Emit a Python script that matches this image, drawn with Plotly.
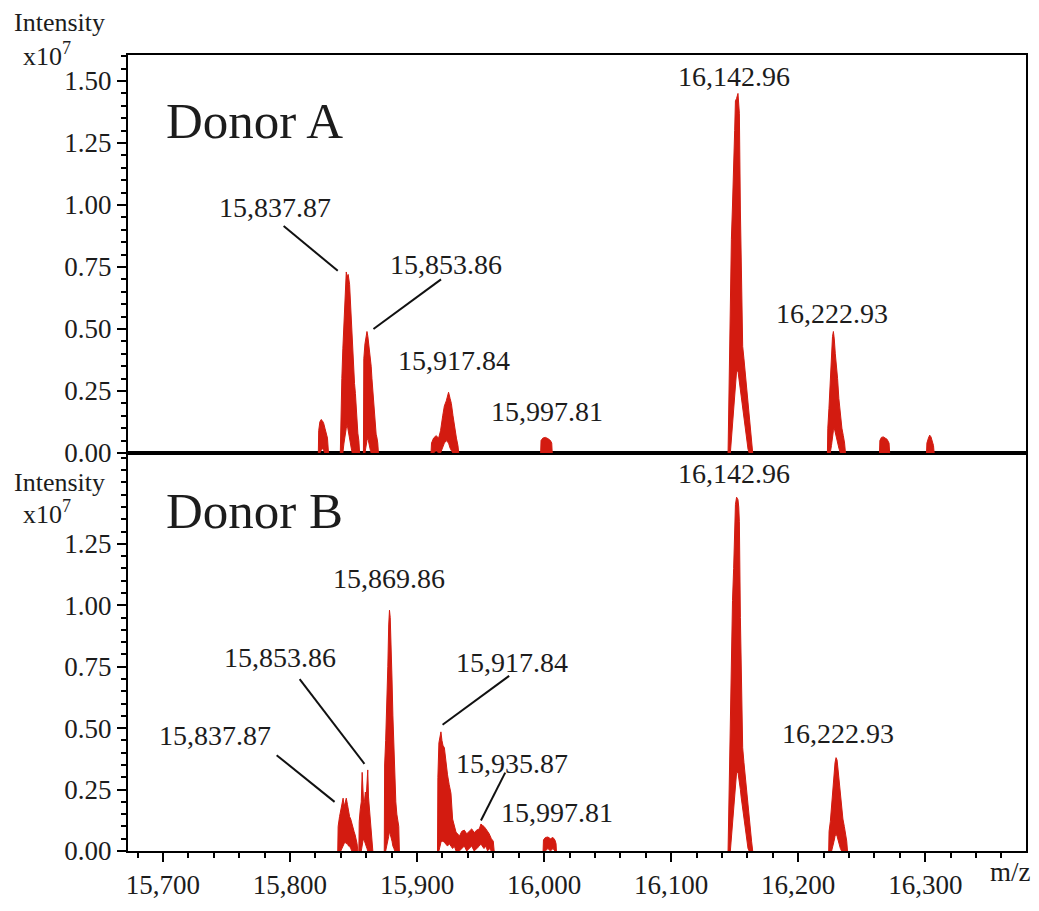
import plotly.graph_objects as go

# ---------------- data: m/z, upper envelope, lower envelope (x10^7 counts) ----------------
# Donor A
a1_mz = [15822.3, 15822.6, 15823.5, 15824.5, 15825.5, 15826.5, 15827.5, 15828.5, 15829.5, 15830.3]
a1_up = [0, 0.09, 0.125, 0.135, 0.13, 0.12, 0.10, 0.08, 0.06, 0]
a1_lo = [0, 0, 0, 0.01, 0.02, 0.01, 0, 0, 0, 0]

a2_mz = [15839.6, 15839.9, 15840.8, 15841.6, 15842.5, 15843.5, 15844.3, 15845.0, 15845.8, 15846.9,
         15847.6, 15848.2, 15849.0, 15849.9, 15850.8, 15851.5, 15852.1, 15852.8, 15853.4, 15854.2, 15854.8]
a2_up = [0, 0.10, 0.30, 0.42, 0.55, 0.70, 0.73, 0.71, 0.72, 0.68,
         0.60, 0.52, 0.48, 0.38, 0.28, 0.24, 0.18, 0.12, 0.08, 0.05, 0]
a2_lo = [0, 0, 0, 0, 0.04, 0.08, 0.10, 0.115, 0.10, 0.07,
         0.04, 0.02, 0, 0, 0, 0, 0, 0, 0, 0, 0]

a3_mz = [15857.8, 15858.1, 15859.0, 15859.8, 15860.6, 15861.3, 15862.0, 15862.6, 15863.3, 15863.9,
         15864.5, 15865.1, 15865.8, 15866.5, 15867.2, 15867.8, 15868.5, 15869.1, 15869.6]
a3_up = [0, 0.38, 0.44, 0.47, 0.49, 0.47, 0.44, 0.42, 0.38, 0.35,
         0.30, 0.26, 0.20, 0.155, 0.11, 0.076, 0.06, 0.04, 0]
a3_lo = [0, 0, 0, 0.03, 0.05, 0.06, 0.05, 0.03, 0.01, 0,
         0, 0, 0, 0, 0, 0, 0, 0, 0]

a4_mz = [15911.0, 15911.4, 15913.0, 15915.0, 15917.0, 15918.5, 15920.2, 15921.5, 15923.0, 15924.8,
         15926.0, 15927.0, 15928.3, 15929.5, 15931.0, 15932.2, 15932.8]
a4_up = [0, 0.04, 0.06, 0.07, 0.06, 0.09, 0.15, 0.19, 0.21, 0.245,
         0.22, 0.20, 0.15, 0.10, 0.06, 0.03, 0]
a4_lo = [0, 0, 0, 0.01, 0, 0, 0.02, 0.04, 0.05, 0.04,
         0.02, 0.01, 0, 0, 0, 0, 0]

a5_mz = [15997.3, 15997.6, 15999.0, 16001.0, 16003.0, 16005.0, 16006.0, 16006.4]
a5_up = [0, 0.05, 0.06, 0.063, 0.058, 0.05, 0.04, 0]
a5_lo = [0, 0, 0, 0, 0, 0, 0, 0]

a6_mz = [16144.8, 16145.1, 16146.0, 16146.6, 16147.4, 16148.3, 16149.2, 16150.0, 16150.6, 16151.5,
         16152.6, 16153.2, 16153.7, 16154.5, 16155.1, 16155.7, 16156.3, 16157.3, 16158.4, 16159.4,
         16160.5, 16161.4, 16162.3, 16163.3, 16164.2]
a6_up = [0, 0.11, 0.30, 0.58, 0.86, 1.00, 1.13, 1.30, 1.42, 1.43,
         1.45, 1.42, 1.37, 0.98, 0.80, 0.65, 0.43, 0.38, 0.32, 0.25,
         0.19, 0.13, 0.083, 0.04, 0]
a6_lo = [0, 0, 0, 0, 0.054, 0.115, 0.177, 0.23, 0.27, 0.33,
         0.33, 0.31, 0.29, 0.256, 0.23, 0.21, 0.18, 0.14, 0.10, 0.06,
         0.016, 0, 0, 0, 0]

a7_mz = [16223.0, 16223.3, 16224.2, 16225.2, 16226.2, 16227.0, 16227.7, 16228.4, 16229.2, 16230.0,
         16231.0, 16232.0, 16233.2, 16234.4, 16235.5, 16236.5, 16237.2]
a7_up = [0, 0.10, 0.18, 0.30, 0.42, 0.47, 0.49, 0.46, 0.40, 0.36,
         0.30, 0.22, 0.15, 0.10, 0.07, 0.04, 0]
a7_lo = [0, 0, 0, 0, 0.03, 0.07, 0.09, 0.10, 0.08, 0.06,
         0.04, 0.02, 0, 0, 0, 0, 0]

a8_mz = [16264.0, 16264.3, 16265.5, 16267.0, 16268.5, 16270.0, 16271.5, 16272.0]
a8_up = [0, 0.05, 0.063, 0.065, 0.06, 0.055, 0.04, 0]
a8_lo = [0, 0, 0, 0, 0, 0, 0, 0]

a9_mz = [16301.0, 16301.3, 16302.5, 16303.5, 16304.5, 16305.5, 16306.5, 16307.0]
a9_up = [0, 0.04, 0.06, 0.072, 0.065, 0.05, 0.03, 0]
a9_lo = [0, 0, 0, 0, 0, 0, 0, 0]

# Donor B
b1_mz = [15837.6, 15837.9, 15839.0, 15840.0, 15841.0, 15841.8, 15842.6, 15843.4, 15844.3, 15845.2,
         15846.1, 15846.9, 15847.8, 15848.7, 15849.5, 15850.4, 15851.3, 15852.1, 15852.8, 15853.4]
b1_up = [0, 0.10, 0.14, 0.17, 0.20, 0.215, 0.18, 0.20, 0.215, 0.19,
         0.16, 0.14, 0.13, 0.11, 0.09, 0.08, 0.065, 0.05, 0.03, 0]
b1_lo = [0, 0, 0, 0, 0.01, 0.02, 0.03, 0.035, 0.03, 0.03,
         0.02, 0.02, 0.01, 0, 0, 0, 0, 0, 0, 0]

b2_mz = [15854.2, 15854.5, 15855.3, 15856.1, 15856.8, 15857.4, 15858.0, 15858.6, 15859.3, 15860.0,
         15860.6, 15861.2, 15861.8, 15862.6, 15863.2, 15863.9, 15864.6, 15865.2]
b2_up = [0, 0.12, 0.17, 0.20, 0.32, 0.22, 0.19, 0.20, 0.24, 0.22,
         0.26, 0.33, 0.22, 0.17, 0.12, 0.09, 0.05, 0]
b2_lo = [0, 0, 0, 0, 0.02, 0.04, 0.05, 0.04, 0.03, 0.02,
         0.01, 0, 0, 0, 0, 0, 0, 0]

b3_mz = [15874.2, 15874.5, 15875.3, 15876.2, 15877.0, 15877.7, 15878.3, 15878.9, 15879.6, 15880.3,
         15881.0, 15881.8, 15882.5, 15883.3, 15884.1, 15885.0, 15885.6, 15886.1]
b3_up = [0, 0.35, 0.45, 0.58, 0.75, 0.92, 0.98, 0.95, 0.85, 0.70,
         0.55, 0.42, 0.28, 0.20, 0.15, 0.12, 0.10, 0]
b3_lo = [0, 0, 0, 0.02, 0.04, 0.06, 0.08, 0.08, 0.06, 0.04,
         0.02, 0.01, 0, 0, 0, 0, 0, 0]

b4_mz = [15916.1, 15916.4, 15917.2, 15918.0, 15918.8, 15919.6, 15920.4, 15921.5, 15922.6, 15924.0,
         15925.3, 15926.7, 15928.0, 15929.3, 15930.7, 15932.0, 15933.3, 15935.2, 15937.2, 15939.1,
         15941.1, 15943.0, 15945.0, 15947.0, 15949.0, 15950.3, 15951.3, 15952.7, 15954.2, 15955.5,
         15956.8, 15958.5, 15960.0, 15960.7]
b4_up = [0, 0.30, 0.44, 0.46, 0.485, 0.45, 0.43, 0.42, 0.36, 0.31,
         0.27, 0.235, 0.13, 0.10, 0.076, 0.07, 0.06, 0.08, 0.085, 0.07,
         0.08, 0.09, 0.075, 0.085, 0.09, 0.11, 0.105, 0.10, 0.09, 0.08,
         0.07, 0.05, 0.04, 0]
b4_lo = [0, 0, 0, 0.02, 0.035, 0.04, 0.04, 0.035, 0.03, 0.02,
         0.03, 0.02, 0.01, 0.02, 0, 0, 0, 0.01, 0.02, 0,
         0.01, 0.02, 0, 0.01, 0.02, 0.03, 0.02, 0.01, 0.02, 0,
         0.01, 0, 0, 0]

b5_mz = [15999.2, 15999.5, 16001.0, 16003.0, 16005.0, 16007.0, 16008.5, 16009.4, 16009.7]
b5_up = [0, 0.045, 0.055, 0.057, 0.05, 0.055, 0.045, 0.03, 0]
b5_lo = [0, 0, 0, 0.01, 0, 0.01, 0, 0, 0]

b6_mz = [16144.8, 16145.1, 16146.0, 16146.6, 16147.4, 16148.3, 16149.2, 16150.0, 16150.6, 16151.5,
         16152.6, 16153.2, 16153.7, 16154.5, 16155.1, 16155.7, 16156.3, 16157.3, 16158.4, 16159.4,
         16160.5, 16161.4, 16162.3, 16163.3, 16164.2]
b6_up = [0, 0.10, 0.28, 0.55, 0.84, 1.02, 1.15, 1.32, 1.41, 1.44,
         1.43, 1.40, 1.34, 0.95, 0.78, 0.62, 0.42, 0.36, 0.30, 0.24,
         0.18, 0.12, 0.08, 0.04, 0]
b6_lo = [0, 0, 0, 0, 0.05, 0.11, 0.17, 0.22, 0.26, 0.32,
         0.32, 0.30, 0.28, 0.25, 0.22, 0.20, 0.17, 0.13, 0.09, 0.05,
         0.01, 0, 0, 0, 0]

b7_mz = [16224.0, 16224.3, 16225.3, 16226.3, 16227.3, 16228.2, 16229.0, 16229.8, 16230.6, 16231.4,
         16232.3, 16233.2, 16234.2, 16235.2, 16236.3, 16237.3, 16238.2, 16238.8]
b7_up = [0, 0.08, 0.12, 0.18, 0.26, 0.32, 0.36, 0.38, 0.37, 0.33,
         0.28, 0.24, 0.18, 0.13, 0.10, 0.07, 0.04, 0]
b7_lo = [0, 0, 0, 0, 0.02, 0.04, 0.06, 0.07, 0.06, 0.05,
         0.03, 0.01, 0, 0, 0, 0, 0, 0]

donor_a = [(a1_mz, a1_up, a1_lo), (a2_mz, a2_up, a2_lo), (a3_mz, a3_up, a3_lo),
           (a4_mz, a4_up, a4_lo), (a5_mz, a5_up, a5_lo), (a6_mz, a6_up, a6_lo),
           (a7_mz, a7_up, a7_lo), (a8_mz, a8_up, a8_lo), (a9_mz, a9_up, a9_lo)]
donor_b = [(b1_mz, b1_up, b1_lo), (b2_mz, b2_up, b2_lo), (b3_mz, b3_up, b3_lo),
           (b4_mz, b4_up, b4_lo), (b5_mz, b5_up, b5_lo), (b6_mz, b6_up, b6_lo),
           (b7_mz, b7_up, b7_lo)]

# peak labels: (text, label m/z, label intensity, leader start or None, leader end or None)
labels_a = [
    ("15,837.87", 15788.0, 0.99, (15795.0, 0.915), (15837.6, 0.735)),
    ("15,853.86", 15923.0, 0.76, (15918.9, 0.70), (15865.7, 0.50)),
    ("15,917.84", 15929.3, 0.375, None, None),
    ("15,997.81", 16002.4, 0.166, None, None),
    ("16,142.96", 16149.2, 1.518, None, None),
    ("16,222.93", 16226.9, 0.564, None, None),
]
labels_b = [
    ("16,142.96", 16149.2, 1.538, None, None),
    ("15,869.86", 15878.3, 1.108, None, None),
    ("15,853.86", 15791.9, 0.789, (15807.6, 0.70), (15858.6, 0.355)),
    ("15,837.87", 15740.8, 0.470, (15789.5, 0.39), (15835.1, 0.20)),
    ("15,917.84", 15974.9, 0.769, (15972.5, 0.713), (15920.1, 0.514)),
    ("15,935.87", 15974.9, 0.355, (15969.4, 0.319), (15950.3, 0.124)),
    ("15,997.81", 16010.2, 0.155, None, None),
    ("16,222.93", 16231.7, 0.478, None, None),
]

x_ticks = [15700, 15800, 15900, 16000, 16100, 16200, 16300]
ya_ticks = [0, 0.25, 0.5, 0.75, 1.0, 1.25, 1.5]
yb_ticks = [0, 0.25, 0.5, 0.75, 1.0, 1.25]

# ---------------- figure ----------------
RED = "#d31b10"
INK = "#1c1c1c"
FONT = "Liberation Serif"
W, H = 1039, 911
ML, MR, MT, MB = 128, 11, 55, 44

fig = go.Figure()


def add_spectrum(groups, xa, ya):
    for mz, up, lo in groups:
        fig.add_trace(go.Scatter(
            x=list(mz) + list(mz)[::-1],
            y=list(up) + list(lo)[::-1],
            xaxis=xa, yaxis=ya, mode="lines", fill="toself",
            fillcolor=RED, line=dict(color=RED, width=1),
            hoverinfo="skip", showlegend=False))


add_spectrum(donor_a, "x2", "y2")
add_spectrum(donor_b, "x", "y")

annotations = []
shapes = []


def add_labels(items, xref, yref):
    for text, lx, ly, p0, p1 in items:
        annotations.append(dict(text=text, x=lx, y=ly, xref=xref, yref=yref,
                                showarrow=False, xanchor="center", yanchor="middle",
                                font=dict(family=FONT, size=28, color=INK)))
        if p0 is not None:
            shapes.append(dict(type="line", xref=xref, yref=yref,
                               x0=p0[0], y0=p0[1], x1=p1[0], y1=p1[1],
                               line=dict(color="#111111", width=2)))


add_labels(labels_a, "x2", "y2")
add_labels(labels_b, "x", "y")

plot_w = W - ML - MR
plot_h = H - MT - MB


def px(xp):
    return (xp - ML) / plot_w


def py(yp):
    return (H - MB - yp) / plot_h


# panel headings and axis captions
for txt, yp in [("Donor A", 122), ("Donor B", 520)]:
    annotations.append(dict(text=txt, x=px(164), y=py(yp), xref="paper", yref="paper",
                            showarrow=False, xanchor="left", yanchor="middle",
                            font=dict(family=FONT, size=51, color=INK)))
for y1, y2 in [(22, 54), (491, 522)]:
    annotations.append(dict(text="Intensity", x=px(12), y=py(y1), xref="paper", yref="paper",
                            showarrow=False, xanchor="left", yanchor="middle",
                            font=dict(family=FONT, size=26, color=INK)))
    annotations.append(dict(text="x10<sup>7</sup>", x=px(21), y=py(y2), xref="paper", yref="paper",
                            showarrow=False, xanchor="left", yanchor="middle",
                            font=dict(family=FONT, size=26, color=INK)))
annotations.append(dict(text="m/z", x=px(1012), y=py(888), xref="paper", yref="paper",
                        showarrow=False, xanchor="center", yanchor="middle",
                        font=dict(family=FONT, size=27, color=INK)))

tickfont = dict(family=FONT, size=27, color=INK)
axis_common = dict(showline=True, linecolor="black", linewidth=2, mirror=True,
                   showgrid=False, zeroline=False, ticks="outside", tickcolor="black",
                   tickwidth=1.5, ticklen=9, tickfont=tickfont)
x_range = [15672.5, 16379.3]

fig.update_layout(
    width=W, height=H,
    margin=dict(l=ML, r=MR, t=MT, b=MB, pad=0),
    paper_bgcolor="white", plot_bgcolor="white",
    showlegend=False,
    xaxis=dict(domain=[0, 1], anchor="y", range=x_range, tickmode="array",
               tickvals=x_ticks, ticktext=[f"{v:,}" for v in x_ticks],
               minor=dict(tickmode="linear", tick0=15700, dtick=20, ticks="outside",
                          ticklen=5, tickwidth=1.5, tickcolor="black", showgrid=False),
               **axis_common),
    xaxis2=dict(domain=[0, 1], anchor="y2", range=x_range, matches="x",
                showline=True, linecolor="black", linewidth=2, mirror=True,
                showgrid=False, zeroline=False, ticks="", showticklabels=False),
    yaxis=dict(domain=[0, 0.5], anchor="x", range=[0, 1.62], tickmode="array",
               tickvals=yb_ticks, ticktext=[f"{v:.2f}" for v in yb_ticks],
               minor=dict(tickmode="linear", tick0=0, dtick=0.05, ticks="outside",
                          ticklen=5, tickwidth=1.5, tickcolor="black", showgrid=False),
               **axis_common),
    yaxis2=dict(domain=[0.5, 1], anchor="x2", range=[0, 1.605], tickmode="array",
                tickvals=ya_ticks, ticktext=[f"{v:.2f}" for v in ya_ticks],
                minor=dict(tickmode="linear", tick0=0, dtick=0.05, ticks="outside",
                           ticklen=5, tickwidth=1.5, tickcolor="black", showgrid=False),
                **axis_common),
    annotations=annotations,
    shapes=shapes,
)

fig.write_html("out.html")
